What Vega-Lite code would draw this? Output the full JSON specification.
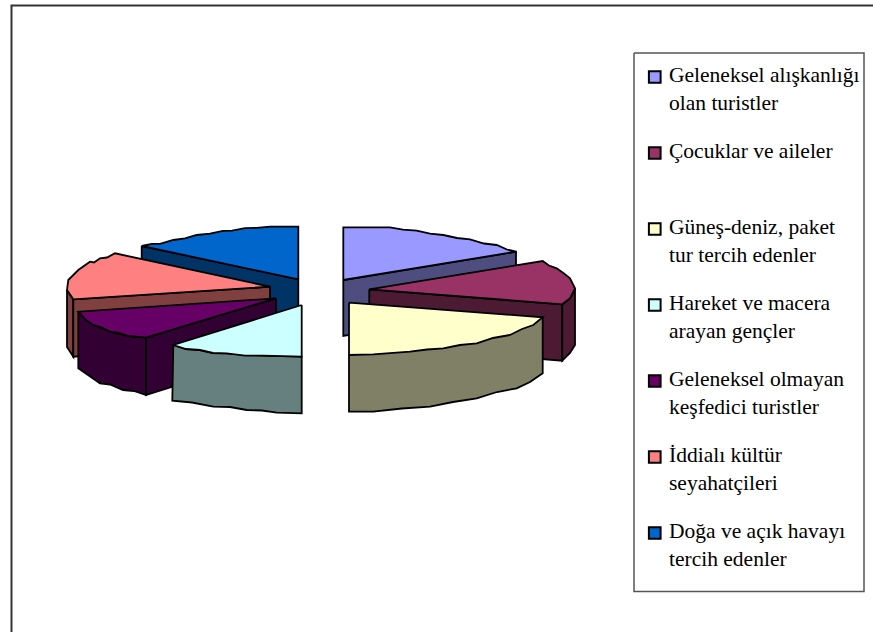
{"$schema":"https://vega.github.io/schema/vega-lite/v6.json","width":873,"height":632,"padding":0,"autosize":"none","background":"white","config":{"view":{"stroke":null}},
"encoding":{"x":{"field":"x","type":"quantitative","scale":{"domain":[0,873]},"axis":null},"y":{"field":"y","type":"quantitative","scale":{"domain":[632,0]},"axis":null},"order":{"field":"n","type":"quantitative"}},
"layer":[
{"data":{"values":[{"n":1,"x":11.5,"y":632},{"n":2,"x":11.5,"y":5.5},{"n":3,"x":873,"y":5.5}]},"mark":{"type":"line","stroke":"#333333","strokeWidth":2,"strokeJoin":"miter"}},
{"data":{"values":[{"n":1,"x":634,"y":53},{"n":2,"x":864,"y":53},{"n":3,"x":864,"y":591.5},{"n":4,"x":634,"y":591.5},{"n":5,"x":634,"y":53}]},"mark":{"type":"line","stroke":"#555555","strokeWidth":1.5,"strokeJoin":"miter"}},
{"data":{"values":[
{"poly":"s7","face":"yan-7","n":1,"x":141.7,"y":246},{"poly":"s7","face":"yan-7","n":2,"x":298.3,"y":279.3},{"poly":"s7","face":"yan-7","n":3,"x":298.3,"y":335},{"poly":"s7","face":"yan-7","n":4,"x":141.7,"y":302},{"poly":"s7","face":"yan-7","n":5,"x":141.7,"y":246},
{"poly":"t7","face":"Doğa ve açık havayı\ntercih edenler","n":1,"x":298.3,"y":279.3},{"poly":"t7","face":"Doğa ve açık havayı\ntercih edenler","n":2,"x":298.3,"y":226.7},{"poly":"t7","face":"Doğa ve açık havayı\ntercih edenler","n":3,"x":270,"y":226.7},{"poly":"t7","face":"Doğa ve açık havayı\ntercih edenler","n":4,"x":256.7,"y":227.8},{"poly":"t7","face":"Doğa ve açık havayı\ntercih edenler","n":5,"x":245,"y":228.2},{"poly":"t7","face":"Doğa ve açık havayı\ntercih edenler","n":6,"x":232,"y":230.6},{"poly":"t7","face":"Doğa ve açık havayı\ntercih edenler","n":7,"x":223,"y":230.8},{"poly":"t7","face":"Doğa ve açık havayı\ntercih edenler","n":8,"x":210,"y":233.6},{"poly":"t7","face":"Doğa ve açık havayı\ntercih edenler","n":9,"x":196.7,"y":235},{"poly":"t7","face":"Doğa ve açık havayı\ntercih edenler","n":10,"x":185,"y":238.4},{"poly":"t7","face":"Doğa ve açık havayı\ntercih edenler","n":11,"x":173.3,"y":240},{"poly":"t7","face":"Doğa ve açık havayı\ntercih edenler","n":12,"x":160,"y":243.8},{"poly":"t7","face":"Doğa ve açık havayı\ntercih edenler","n":13,"x":152,"y":243.8},{"poly":"t7","face":"Doğa ve açık havayı\ntercih edenler","n":14,"x":141.7,"y":246},{"poly":"t7","face":"Doğa ve açık havayı\ntercih edenler","n":15,"x":298.3,"y":279.3},
{"poly":"s1","face":"yan-1","n":1,"x":343.3,"y":280},{"poly":"s1","face":"yan-1","n":2,"x":516,"y":251.7},{"poly":"s1","face":"yan-1","n":3,"x":516,"y":307},{"poly":"s1","face":"yan-1","n":4,"x":343.3,"y":336},{"poly":"s1","face":"yan-1","n":5,"x":343.3,"y":280},
{"poly":"t1","face":"Geleneksel alışkanlığı\nolan turistler","n":1,"x":343.3,"y":280},{"poly":"t1","face":"Geleneksel alışkanlığı\nolan turistler","n":2,"x":343.3,"y":227.3},{"poly":"t1","face":"Geleneksel alışkanlığı\nolan turistler","n":3,"x":390,"y":227.3},{"poly":"t1","face":"Geleneksel alışkanlığı\nolan turistler","n":4,"x":403,"y":229.6},{"poly":"t1","face":"Geleneksel alışkanlığı\nolan turistler","n":5,"x":416.7,"y":230.7},{"poly":"t1","face":"Geleneksel alışkanlığı\nolan turistler","n":6,"x":430,"y":233.6},{"poly":"t1","face":"Geleneksel alışkanlığı\nolan turistler","n":7,"x":443.3,"y":235},{"poly":"t1","face":"Geleneksel alışkanlığı\nolan turistler","n":8,"x":457,"y":238},{"poly":"t1","face":"Geleneksel alışkanlığı\nolan turistler","n":9,"x":470,"y":239.3},{"poly":"t1","face":"Geleneksel alışkanlığı\nolan turistler","n":10,"x":484,"y":243.5},{"poly":"t1","face":"Geleneksel alışkanlığı\nolan turistler","n":11,"x":496.7,"y":245},{"poly":"t1","face":"Geleneksel alışkanlığı\nolan turistler","n":12,"x":507,"y":249.5},{"poly":"t1","face":"Geleneksel alışkanlığı\nolan turistler","n":13,"x":516,"y":251.7},{"poly":"t1","face":"Geleneksel alışkanlığı\nolan turistler","n":14,"x":343.3,"y":280},
{"poly":"s2a","face":"yan-2","n":1,"x":369.3,"y":289.3},{"poly":"s2a","face":"yan-2","n":2,"x":562.3,"y":304.3},{"poly":"s2a","face":"yan-2","n":3,"x":562.3,"y":360.7},{"poly":"s2a","face":"yan-2","n":4,"x":369.3,"y":345},{"poly":"s2a","face":"yan-2","n":5,"x":369.3,"y":289.3},
{"poly":"s2b","face":"yan-2","n":1,"x":562.3,"y":304.3},{"poly":"s2b","face":"yan-2","n":2,"x":570,"y":298.3},{"poly":"s2b","face":"yan-2","n":3,"x":575,"y":288.3},{"poly":"s2b","face":"yan-2","n":4,"x":575,"y":345},{"poly":"s2b","face":"yan-2","n":5,"x":570,"y":353},{"poly":"s2b","face":"yan-2","n":6,"x":562.3,"y":360.7},{"poly":"s2b","face":"yan-2","n":7,"x":562.3,"y":304.3},
{"poly":"t2","face":"Çocuklar ve aileler","n":1,"x":369.3,"y":289.3},{"poly":"t2","face":"Çocuklar ve aileler","n":2,"x":542.7,"y":261},{"poly":"t2","face":"Çocuklar ve aileler","n":3,"x":549,"y":265.5},{"poly":"t2","face":"Çocuklar ve aileler","n":4,"x":556.7,"y":268.3},{"poly":"t2","face":"Çocuklar ve aileler","n":5,"x":564,"y":273.5},{"poly":"t2","face":"Çocuklar ve aileler","n":6,"x":570,"y":278.3},{"poly":"t2","face":"Çocuklar ve aileler","n":7,"x":575,"y":288.3},{"poly":"t2","face":"Çocuklar ve aileler","n":8,"x":570,"y":298.3},{"poly":"t2","face":"Çocuklar ve aileler","n":9,"x":562.3,"y":304.3},{"poly":"t2","face":"Çocuklar ve aileler","n":10,"x":369.3,"y":289.3},
{"poly":"s6a","face":"yan-6","n":1,"x":67,"y":290},{"poly":"s6a","face":"yan-6","n":2,"x":73.3,"y":299.3},{"poly":"s6a","face":"yan-6","n":3,"x":73.3,"y":356.7},{"poly":"s6a","face":"yan-6","n":4,"x":67,"y":347},{"poly":"s6a","face":"yan-6","n":5,"x":67,"y":290},
{"poly":"s6b","face":"yan-6","n":1,"x":73.3,"y":299.3},{"poly":"s6b","face":"yan-6","n":2,"x":270,"y":286.7},{"poly":"s6b","face":"yan-6","n":3,"x":270,"y":342},{"poly":"s6b","face":"yan-6","n":4,"x":73.3,"y":356.7},{"poly":"s6b","face":"yan-6","n":5,"x":73.3,"y":299.3},
{"poly":"t6","face":"İddialı kültür\nseyahatçileri","n":1,"x":270,"y":286.7},{"poly":"t6","face":"İddialı kültür\nseyahatçileri","n":2,"x":115,"y":253.3},{"poly":"t6","face":"İddialı kültür\nseyahatçileri","n":3,"x":107,"y":257.5},{"poly":"t6","face":"İddialı kültür\nseyahatçileri","n":4,"x":100,"y":258.3},{"poly":"t6","face":"İddialı kültür\nseyahatçileri","n":5,"x":94,"y":262.5},{"poly":"t6","face":"İddialı kültür\nseyahatçileri","n":6,"x":90,"y":261.7},{"poly":"t6","face":"İddialı kültür\nseyahatçileri","n":7,"x":78.3,"y":270},{"poly":"t6","face":"İddialı kültür\nseyahatçileri","n":8,"x":68.3,"y":280},{"poly":"t6","face":"İddialı kültür\nseyahatçileri","n":9,"x":67,"y":290},{"poly":"t6","face":"İddialı kültür\nseyahatçileri","n":10,"x":73.3,"y":299.3},{"poly":"t6","face":"İddialı kültür\nseyahatçileri","n":11,"x":270,"y":286.7},
{"poly":"s5a","face":"yan-5","n":1,"x":78.3,"y":311.7},{"poly":"s5a","face":"yan-5","n":2,"x":93.3,"y":325},{"poly":"s5a","face":"yan-5","n":3,"x":110,"y":331.7},{"poly":"s5a","face":"yan-5","n":4,"x":128.3,"y":336},{"poly":"s5a","face":"yan-5","n":5,"x":146,"y":337.7},{"poly":"s5a","face":"yan-5","n":6,"x":146,"y":395},{"poly":"s5a","face":"yan-5","n":7,"x":134,"y":391},{"poly":"s5a","face":"yan-5","n":8,"x":123,"y":390},{"poly":"s5a","face":"yan-5","n":9,"x":110,"y":384.5},{"poly":"s5a","face":"yan-5","n":10,"x":100,"y":383.3},{"poly":"s5a","face":"yan-5","n":11,"x":88,"y":375},{"poly":"s5a","face":"yan-5","n":12,"x":78.3,"y":368.3},{"poly":"s5a","face":"yan-5","n":13,"x":78.3,"y":311.7},
{"poly":"s5b","face":"yan-5","n":1,"x":276,"y":298.3},{"poly":"s5b","face":"yan-5","n":2,"x":146,"y":337.7},{"poly":"s5b","face":"yan-5","n":3,"x":146,"y":395},{"poly":"s5b","face":"yan-5","n":4,"x":276,"y":354},{"poly":"s5b","face":"yan-5","n":5,"x":276,"y":298.3},
{"poly":"t5","face":"Geleneksel olmayan\nkeşfedici turistler","n":1,"x":276,"y":298.3},{"poly":"t5","face":"Geleneksel olmayan\nkeşfedici turistler","n":2,"x":78.3,"y":311.7},{"poly":"t5","face":"Geleneksel olmayan\nkeşfedici turistler","n":3,"x":86,"y":320},{"poly":"t5","face":"Geleneksel olmayan\nkeşfedici turistler","n":4,"x":93.3,"y":325},{"poly":"t5","face":"Geleneksel olmayan\nkeşfedici turistler","n":5,"x":101,"y":327},{"poly":"t5","face":"Geleneksel olmayan\nkeşfedici turistler","n":6,"x":110,"y":331.7},{"poly":"t5","face":"Geleneksel olmayan\nkeşfedici turistler","n":7,"x":119,"y":333},{"poly":"t5","face":"Geleneksel olmayan\nkeşfedici turistler","n":8,"x":128.3,"y":336},{"poly":"t5","face":"Geleneksel olmayan\nkeşfedici turistler","n":9,"x":146,"y":337.7},{"poly":"t5","face":"Geleneksel olmayan\nkeşfedici turistler","n":10,"x":276,"y":298.3},
{"poly":"s4","face":"yan-4","n":1,"x":173.3,"y":345},{"poly":"s4","face":"yan-4","n":2,"x":186,"y":349},{"poly":"s4","face":"yan-4","n":3,"x":200,"y":350},{"poly":"s4","face":"yan-4","n":4,"x":213,"y":353},{"poly":"s4","face":"yan-4","n":5,"x":226.7,"y":353.3},{"poly":"s4","face":"yan-4","n":6,"x":263.3,"y":355.7},{"poly":"s4","face":"yan-4","n":7,"x":301.7,"y":356.7},{"poly":"s4","face":"yan-4","n":8,"x":301.7,"y":413.3},{"poly":"s4","face":"yan-4","n":9,"x":276.7,"y":412.7},{"poly":"s4","face":"yan-4","n":10,"x":262,"y":410.5},{"poly":"s4","face":"yan-4","n":11,"x":246.7,"y":410},{"poly":"s4","face":"yan-4","n":12,"x":230,"y":407},{"poly":"s4","face":"yan-4","n":13,"x":213.3,"y":406.7},{"poly":"s4","face":"yan-4","n":14,"x":192,"y":402.5},{"poly":"s4","face":"yan-4","n":15,"x":172.3,"y":400.7},{"poly":"s4","face":"yan-4","n":16,"x":173.3,"y":345},
{"poly":"t4","face":"Hareket ve macera\narayan gençler","n":1,"x":301.7,"y":305},{"poly":"t4","face":"Hareket ve macera\narayan gençler","n":2,"x":173.3,"y":345},{"poly":"t4","face":"Hareket ve macera\narayan gençler","n":3,"x":186,"y":349},{"poly":"t4","face":"Hareket ve macera\narayan gençler","n":4,"x":200,"y":350},{"poly":"t4","face":"Hareket ve macera\narayan gençler","n":5,"x":213,"y":353},{"poly":"t4","face":"Hareket ve macera\narayan gençler","n":6,"x":226.7,"y":353.3},{"poly":"t4","face":"Hareket ve macera\narayan gençler","n":7,"x":245,"y":355.6},{"poly":"t4","face":"Hareket ve macera\narayan gençler","n":8,"x":263.3,"y":355.7},{"poly":"t4","face":"Hareket ve macera\narayan gençler","n":9,"x":301.7,"y":356.7},{"poly":"t4","face":"Hareket ve macera\narayan gençler","n":10,"x":301.7,"y":305},
{"poly":"s3","face":"yan-3","n":1,"x":349,"y":355},{"poly":"s3","face":"yan-3","n":2,"x":542.7,"y":317.3},{"poly":"s3","face":"yan-3","n":3,"x":542.7,"y":373.3},{"poly":"s3","face":"yan-3","n":4,"x":530,"y":382},{"poly":"s3","face":"yan-3","n":5,"x":516.7,"y":388.3},{"poly":"s3","face":"yan-3","n":6,"x":497,"y":392},{"poly":"s3","face":"yan-3","n":7,"x":476.7,"y":398.3},{"poly":"s3","face":"yan-3","n":8,"x":453,"y":402},{"poly":"s3","face":"yan-3","n":9,"x":430,"y":406.7},{"poly":"s3","face":"yan-3","n":10,"x":402,"y":408.5},{"poly":"s3","face":"yan-3","n":11,"x":373.3,"y":411.7},{"poly":"s3","face":"yan-3","n":12,"x":349,"y":411.7},{"poly":"s3","face":"yan-3","n":13,"x":349,"y":355},
{"poly":"t3","face":"Güneş-deniz, paket\ntur tercih edenler","n":1,"x":349,"y":302.7},{"poly":"t3","face":"Güneş-deniz, paket\ntur tercih edenler","n":2,"x":542.7,"y":317.3},{"poly":"t3","face":"Güneş-deniz, paket\ntur tercih edenler","n":3,"x":533.3,"y":325},{"poly":"t3","face":"Güneş-deniz, paket\ntur tercih edenler","n":4,"x":522,"y":329},{"poly":"t3","face":"Güneş-deniz, paket\ntur tercih edenler","n":5,"x":510,"y":335},{"poly":"t3","face":"Güneş-deniz, paket\ntur tercih edenler","n":6,"x":493,"y":338},{"poly":"t3","face":"Güneş-deniz, paket\ntur tercih edenler","n":7,"x":476.7,"y":343.3},{"poly":"t3","face":"Güneş-deniz, paket\ntur tercih edenler","n":8,"x":460,"y":345},{"poly":"t3","face":"Güneş-deniz, paket\ntur tercih edenler","n":9,"x":443.3,"y":348.3},{"poly":"t3","face":"Güneş-deniz, paket\ntur tercih edenler","n":10,"x":427,"y":349.5},{"poly":"t3","face":"Güneş-deniz, paket\ntur tercih edenler","n":11,"x":410,"y":351.7},{"poly":"t3","face":"Güneş-deniz, paket\ntur tercih edenler","n":12,"x":373.3,"y":354.3},{"poly":"t3","face":"Güneş-deniz, paket\ntur tercih edenler","n":13,"x":349,"y":355},{"poly":"t3","face":"Güneş-deniz, paket\ntur tercih edenler","n":14,"x":349,"y":302.7}
]},
"mark":{"type":"line","stroke":"black","strokeWidth":1.8,"filled":true},
"encoding":{"detail":{"field":"poly"},"fill":{"field":"face","type":"nominal",
"scale":{"domain":["Geleneksel alışkanlığı\nolan turistler","Çocuklar ve aileler","Güneş-deniz, paket\ntur tercih edenler","Hareket ve macera\narayan gençler","Geleneksel olmayan\nkeşfedici turistler","İddialı kültür\nseyahatçileri","Doğa ve açık havayı\ntercih edenler","yan-1","yan-2","yan-3","yan-4","yan-5","yan-6","yan-7"],
"range":["#9999FF","#993366","#FFFFCC","#CCFFFF","#660066","#FF8080","#0066CC","#4D4D80","#4D1A33","#808066","#668080","#330033","#804040","#003366"]},
"legend":{"orient":"none","legendX":644,"legendY":39,"padding":0,"title":null,
"values":["Geleneksel alışkanlığı\nolan turistler","Çocuklar ve aileler","Güneş-deniz, paket\ntur tercih edenler","Hareket ve macera\narayan gençler","Geleneksel olmayan\nkeşfedici turistler","İddialı kültür\nseyahatçileri","Doğa ve açık havayı\ntercih edenler"],
"symbolType":"square","symbolSize":137,"symbolStrokeColor":"black","symbolStrokeWidth":2,
"labelExpr":"split(datum.label,'\\n')","labelBaseline":"alphabetic","labelFont":"Liberation Serif","labelFontSize":21.5,"labelColor":"black","labelLimit":230,"labelOffset":3.5,
"clipHeight":76,"rowPadding":0,
"encoding":{"labels":{"dy":{"value":5.2},"lineHeight":{"value":27.7}}}}}}}
]}
